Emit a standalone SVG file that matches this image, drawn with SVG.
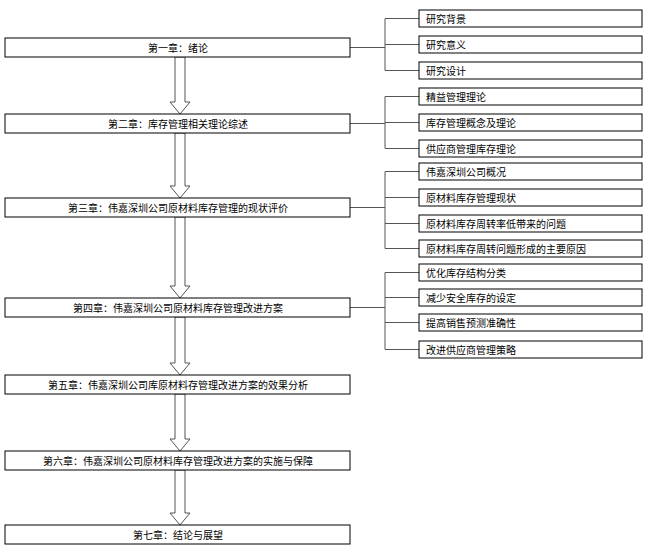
<svg xmlns="http://www.w3.org/2000/svg" width="652" height="554" viewBox="0 0 652 554">
<style>
rect{fill:#fff;stroke:#000;stroke-width:1}
text{font-family:"Noto Sans CJK SC",sans-serif;font-size:10px;fill:#000;dominant-baseline:central}
.c{text-anchor:middle}
.l{fill:none;stroke:#555;stroke-width:1}
.a{fill:#fff;stroke:#555;stroke-width:1}
</style>
<rect x="0" y="0" width="652" height="554" style="stroke:none"/>
<g id="connectors">
<path class="l" d="M350 47.5H385M385 18.5V70.5M385 18.5H419M385 44.5H419M385 70.5H419"/>
<path class="l" d="M350 123.5H385M385 96.5V148.5M385 96.5H419M385 122.5H419M385 148.5H419"/>
<path class="l" d="M350 207.5H385M385 171.5V248.5M385 171.5H419M385 197.5H419M385 223.5H419M385 248.5H419"/>
<path class="l" d="M350 307.5H385M385 272.5V349.5M385 272.5H419M385 297.5H419M385 322.5H419M385 349.5H419"/>
<path class="a" d="M175 57V102H170L180 114L190 102H185V57Z"/>
<path class="a" d="M175 133V186H170L180 198L190 186H185V133Z"/>
<path class="a" d="M175 217V286H170L180 298L190 286H185V217Z"/>
<path class="a" d="M175 317V363H170L180 375L190 363H185V317Z"/>
<path class="a" d="M175 394V439H170L180 451L190 439H185V394Z"/>
<path class="a" d="M175 470V513H170L180 525L190 513H185V470Z"/>
</g>
<g id="ch1"><rect x="5" y="38" width="345" height="19"/><text class="c" x="178" y="47.5">第一章：绪论</text></g>
<g id="ch2"><rect x="5" y="114" width="345" height="19"/><text class="c" x="178" y="123.5">第二章：库存管理相关理论综述</text></g>
<g id="ch3"><rect x="5" y="198" width="345" height="19"/><text class="c" x="178" y="207.5">第三章：伟嘉深圳公司原材料库存管理的现状评价</text></g>
<g id="ch4"><rect x="5" y="298" width="345" height="19"/><text class="c" x="178" y="307.5">第四章：伟嘉深圳公司原材料库存管理改进方案</text></g>
<g id="ch5"><rect x="5" y="375" width="345" height="19"/><text class="c" x="178" y="384.5">第五章：伟嘉深圳公司库原材料存管理改进方案的效果分析</text></g>
<g id="ch6"><rect x="5" y="451" width="345" height="19"/><text class="c" x="178" y="460.5">第六章：伟嘉深圳公司原材料库存管理改进方案的实施与保障</text></g>
<g id="ch7"><rect x="5" y="525" width="345" height="19"/><text class="c" x="178" y="534.5">第七章：结论与展望</text></g>
<g id="s1"><rect x="419" y="10" width="223" height="17"/><text x="426" y="18.5">研究背景</text></g>
<g id="s2"><rect x="419" y="36" width="223" height="17"/><text x="426" y="44.5">研究意义</text></g>
<g id="s3"><rect x="419" y="62" width="223" height="17"/><text x="426" y="70.5">研究设计</text></g>
<g id="s4"><rect x="419" y="88" width="223" height="17"/><text x="426" y="96.5">精益管理理论</text></g>
<g id="s5"><rect x="419" y="114" width="223" height="17"/><text x="426" y="122.5">库存管理概念及理论</text></g>
<g id="s6"><rect x="419" y="140" width="223" height="17"/><text x="426" y="148.5">供应商管理库存理论</text></g>
<g id="s7"><rect x="419" y="163" width="223" height="17"/><text x="426" y="171.5">伟嘉深圳公司概况</text></g>
<g id="s8"><rect x="419" y="189" width="223" height="17"/><text x="426" y="197.5">原材料库存管理现状</text></g>
<g id="s9"><rect x="419" y="215" width="223" height="17"/><text x="426" y="223.5">原材料库存周转率低带来的问题</text></g>
<g id="s10"><rect x="419" y="240" width="223" height="17"/><text x="426" y="248.5">原材料库存周转问题形成的主要原因</text></g>
<g id="s11"><rect x="419" y="264" width="223" height="17"/><text x="426" y="272.5">优化库存结构分类</text></g>
<g id="s12"><rect x="419" y="289" width="223" height="17"/><text x="426" y="297.5">减少安全库存的设定</text></g>
<g id="s13"><rect x="419" y="314" width="223" height="17"/><text x="426" y="322.5">提高销售预测准确性</text></g>
<g id="s14"><rect x="419" y="341" width="223" height="17"/><text x="426" y="349.5">改进供应商管理策略</text></g>
</svg>
